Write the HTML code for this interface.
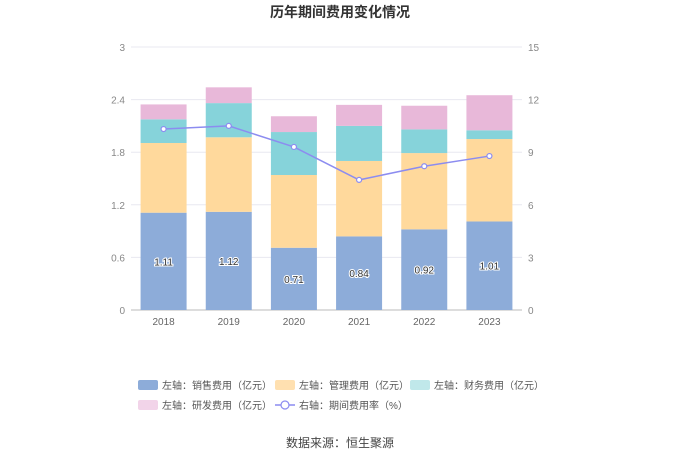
<!DOCTYPE html>
<html><head><meta charset="utf-8"><style>
body{margin:0;background:#fff;font-family:"Liberation Sans","Noto Sans CJK SC",sans-serif;}
svg text{font-family:"Liberation Sans","Noto Sans CJK SC",sans-serif;}
</style></head><body>
<svg id="c" width="680" height="460" viewBox="0 0 680 460">
<text x="340" y="17" text-anchor="middle" font-size="14" font-weight="bold" fill="#333">历年期间费用变化情况</text>
<g id="grid"></g><g id="bars"></g><g id="line"></g><g id="axes"></g>
<text x="340" y="447" text-anchor="middle" font-size="12" fill="#444">数据来源：恒生聚源</text>
<g id="legend"></g>
</svg>
<script>
const years=['2018','2019','2020','2021','2022','2023'];
const sales=[1.11,1.12,0.71,0.84,0.92,1.01];
const mgmt=[0.795,0.85,0.83,0.86,0.87,0.94];
const fin=[0.27,0.39,0.49,0.40,0.27,0.10];
const rd=[0.17,0.18,0.18,0.24,0.27,0.40];
const rate=[10.32,10.5,9.3,7.42,8.2,8.78];
const leftTicks=['0','0.6','1.2','1.8','2.4','3'];
const rightTicks=['0','3','6','9','12','15'];
const NS='http://www.w3.org/2000/svg';
const x0=131,x1=522,yT=47,yB=310;
const yL=v=>yB-v/3*(yB-yT), yR=v=>yB-v/15*(yB-yT);
const bw=(x1-x0)/years.length, xc=i=>x0+bw*(i+0.5);
function mk(t,a,p){const e=document.createElementNS(NS,t);for(const k in a)e.setAttribute(k,a[k]);p.appendChild(e);return e;}
const G=document.getElementById('grid'),B=document.getElementById('bars'),L=document.getElementById('line'),A=document.getElementById('axes'),LG=document.getElementById('legend');
leftTicks.forEach((t,i)=>{const y=yL(+t);
 const g=mk('line',{x1:x0,x2:x1,y1:y,y2:y,stroke:i?'#e8e8f0':'#bbb','stroke-width':1},G);
 
 const a=mk('text',{x:x0-6,y:y+4,'text-anchor':'end','font-size':10,fill:'#888'},A);a.textContent=t;
 
 const b=mk('text',{x:x1+6,y:yR(+rightTicks[i])+4,'font-size':10,fill:'#888'},A);b.textContent=rightTicks[i];
 });
const series=[[sales,'#8dacd9'],[mgmt,'#ffd99c'],[fin,'#86d3da'],[rd,'#e8b8d9']];
years.forEach((yr,i)=>{let acc=0;
 series.forEach(([s,c],k)=>{const top=yL(acc+s[i]),bot=yL(acc);acc+=s[i];
  const r=mk('rect',{x:xc(i)-23,y:top,width:46,height:bot-top,fill:c},B);
  });
 const t=mk('text',{x:xc(i),y:yL(sales[i]/2)+4,'text-anchor':'middle','font-size':10,fill:'#333',stroke:'#fff','stroke-width':2,'paint-order':'stroke'},B);t.textContent=sales[i].toFixed(2);
 
 const xl=mk('text',{x:xc(i),y:yB+15,'text-anchor':'middle','font-size':10,fill:'#666'},A);xl.textContent=yr;
 });
const pl=mk('polyline',{points:rate.map((v,i)=>xc(i)+','+yR(v)).join(' '),fill:'none',stroke:'#8c8cf0','stroke-width':1.5},L);

rate.forEach((v,i)=>{const c=mk('circle',{cx:xc(i),cy:yR(v),r:2.5,fill:'#fff',stroke:'#8c8cf0','stroke-width':1.2},L);
 });
const items=[['左轴：销售费用（亿元）','#8dacd9',138,385],['左轴：管理费用（亿元）','#ffe0b0',275,385],['左轴：财务费用（亿元）','#c0e8ea',410,385],['左轴：研发费用（亿元）','#f2d4e9',138,405],['右轴：期间费用率（%）',null,275,405]];
items.forEach(([t,c,x,y])=>{const g=mk('g',{},LG);
 if(c)mk('rect',{x:x,y:y-5,width:20,height:10,rx:2,fill:c},g);
 else{mk('line',{x1:x,x2:x+20,y1:y,y2:y,stroke:'#8c8cf0','stroke-width':1.5},g);mk('circle',{cx:x+10,cy:y,r:4,fill:'#fff',stroke:'#8c8cf0','stroke-width':1.2},g);}
 const tx=mk('text',{x:x+24,y:y+4,'font-size':10,fill:'#555'},g);tx.textContent=t;});
</script>
</body></html>
